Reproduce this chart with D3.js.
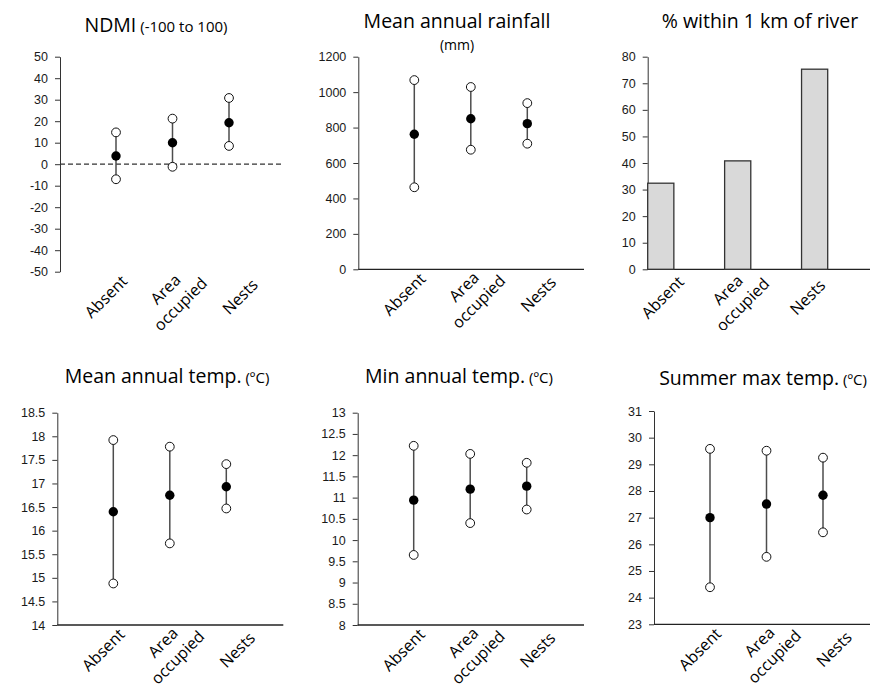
<!DOCTYPE html>
<html>
<head>
<meta charset="utf-8">
<script src="https://cdn.jsdelivr.net/npm/d3@7"></script>
<style>
  body { margin: 0; background: #fff; }
  svg { display: block; font-family: "Open Sans", Lato, sans-serif; }
  .tick text { fill: #1a1a1a; }
</style>
</head>
<body>
<div id="chart"></div>
<script>
const categories = ["Absent", "Area occupied", "Nests"];

// NDMI (-100 to 100)
const ndmiMean = [3.8, 10.0, 19.3];
const ndmiUpper = [14.8, 21.2, 30.8];
const ndmiLower = [-7.0, -1.2, 8.5];
const ndmiTicks = [-50, -40, -30, -20, -10, 0, 10, 20, 30, 40, 50];

// rainfall (mm)
const rainMean = [762, 850, 822];
const rainUpper = [1068, 1029, 938];
const rainLower = [463, 675, 709];
const rainTicks = [0, 200, 400, 600, 800, 1000, 1200];

// % within 1 km of river
const riverPct = [32.4, 40.8, 75.3];
const riverTicks = [0, 10, 20, 30, 40, 50, 60, 70, 80];

// mean annual temp
const meanTempMean = [16.40, 16.75, 16.93];
const meanTempUpper = [17.92, 17.78, 17.41];
const meanTempLower = [14.88, 15.73, 16.47];
const meanTempTicks = [14, 14.5, 15, 15.5, 16, 16.5, 17, 17.5, 18, 18.5];

// min annual temp
const minTempMean = [10.94, 11.20, 11.27];
const minTempUpper = [12.22, 12.03, 11.82];
const minTempLower = [9.65, 10.40, 10.72];
const minTempTicks = [8, 8.5, 9, 9.5, 10, 10.5, 11, 11.5, 12, 12.5, 13];

// summer max temp
const maxTempMean = [27.00, 27.51, 27.84];
const maxTempUpper = [29.58, 29.51, 29.25];
const maxTempLower = [24.39, 25.53, 26.45];
const maxTempTicks = [23, 24, 25, 26, 27, 28, 29, 30, 31];

const width = 870, height = 684;

// layout of the six panels
const panels = [
  {title: "NDMI", small: " (-100 to 100)", tx: 156, ty: 32,
   x0: 60, x1: 282, top: 56.7, bottom: 271.7, ticks: ndmiTicks, zeroLine: true,
   mean: ndmiMean, upper: ndmiUpper, lower: ndmiLower, clip: 330},
  {title: "Mean annual rainfall", below: "(mm)", tx: 457, ty: 28,
   x0: 358.3, x1: 584, top: 56.7, bottom: 269.3, ticks: rainTicks,
   mean: rainMean, upper: rainUpper, lower: rainLower, clip: 330},
  {title: "% within 1 km of river", tx: 760, ty: 28,
   x0: 647.7, x1: 870, top: 56.7, bottom: 269.3, ticks: riverTicks,
   bars: riverPct, clip: 330},
  {title: "Mean annual temp.", small: " (ºC)", tx: 167, ty: 383,
   x0: 57.3, x1: 283.3, top: 412.7, bottom: 625, ticks: meanTempTicks,
   mean: meanTempMean, upper: meanTempUpper, lower: meanTempLower, clip: 684},
  {title: "Min annual temp.", small: " (ºC)", tx: 459, ty: 383,
   x0: 357.7, x1: 584, top: 412.7, bottom: 625, ticks: minTempTicks,
   mean: minTempMean, upper: minTempUpper, lower: minTempLower, clip: 684},
  {title: "Summer max temp.", small: " (ºC)", tx: 763, ty: 385,
   x0: 654, x1: 870, top: 411, bottom: 624.3, ticks: maxTempTicks,
   mean: maxTempMean, upper: maxTempUpper, lower: maxTempLower, clip: 684}
];

const svg = d3.select("#chart").append("svg")
  .attr("width", width)
  .attr("height", height);

panels.forEach((p, i) => {
  svg.append("clipPath").attr("id", "clip" + i)
    .append("rect").attr("x", 0).attr("y", 0).attr("width", width).attr("height", p.clip);

  const g = svg.append("g").attr("clip-path", `url(#clip${i})`);

  const y = d3.scaleLinear()
    .domain(d3.extent(p.ticks))
    .range([p.bottom, p.top]);

  // title
  const t = g.append("text")
    .attr("x", p.tx).attr("y", p.ty)
    .attr("text-anchor", "middle")
    .attr("fill", "#000")
    .style("font-size", "19.5px")
    .text(p.title);
  if (p.small) t.append("tspan").style("font-size", "15px").text(p.small);
  if (p.below) {
    g.append("text")
      .attr("x", p.tx).attr("y", p.ty + 22)
      .attr("text-anchor", "middle")
      .attr("fill", "#000")
      .style("font-size", "14px")
      .text(p.below);
  }

  // y axis
  const ax = g.append("g")
    .attr("transform", `translate(${p.x0},0)`)
    .call(d3.axisLeft(y)
      .tickValues(p.ticks)
      .tickFormat(d => String(d))
      .tickSize(5)
      .tickSizeOuter(0)
      .tickPadding(7));
  ax.selectAll(".tick text").style("font-size", "12.5px");
  ax.selectAll("path, line").attr("stroke", "#333");

  // x axis line
  if (p.zeroLine) {
    g.append("line")
      .attr("x1", p.x0).attr("x2", p.x1)
      .attr("y1", y(0)).attr("y2", y(0))
      .attr("stroke", "#333")
      .attr("stroke-width", 1.2)
      .attr("stroke-dasharray", "5,3");
  } else {
    g.append("line")
      .attr("x1", p.x0).attr("x2", p.x1)
      .attr("y1", p.bottom).attr("y2", p.bottom)
      .attr("stroke", "#222")
      .attr("stroke-width", 1.3);
  }

  let labelX, labelDy;
  if (p.bars) {
    const xb = d3.scaleBand()
      .domain(categories)
      .range([p.x0, p.x0 + 180])
      .paddingInner(0.66)
      .paddingOuter(0);
    g.selectAll("rect.bar")
      .data(categories)
      .join("rect")
      .attr("class", "bar")
      .attr("x", d => xb(d))
      .attr("width", xb.bandwidth())
      .attr("y", (d, j) => y(p.bars[j]))
      .attr("height", (d, j) => y(0) - y(p.bars[j]))
      .attr("fill", "#d9d9d9")
      .attr("stroke", "#333")
      .attr("stroke-width", 1.3);
    labelX = d3.scalePoint().domain(categories).range([p.x0 + 15, p.x0 + 160]);
    labelDy = 28;
  } else {
    const x = d3.scalePoint()
      .domain(categories)
      .range([p.x0 + 56, p.x0 + 169]);
    g.selectAll("line.bar")
      .data(categories)
      .join("line")
      .attr("class", "bar")
      .attr("x1", d => x(d)).attr("x2", d => x(d))
      .attr("y1", (d, j) => y(p.lower[j]))
      .attr("y2", (d, j) => y(p.upper[j]))
      .attr("stroke", "#4d4d4d")
      .attr("stroke-width", 1.5);
    ["lower", "upper"].forEach(k => {
      g.selectAll("circle." + k)
        .data(categories)
        .join("circle")
        .attr("class", k)
        .attr("cx", d => x(d))
        .attr("cy", (d, j) => y(p[k][j]))
        .attr("r", 4.4)
        .attr("fill", "#fff")
        .attr("stroke", "#111")
        .attr("stroke-width", 1);
    });
    g.selectAll("circle.mean")
      .data(categories)
      .join("circle")
      .attr("class", "mean")
      .attr("cx", d => x(d))
      .attr("cy", (d, j) => y(p.mean[j]))
      .attr("r", 4.7)
      .attr("fill", "#000");
    labelX = d3.scalePoint().domain(categories).range([p.x0 + 46, p.x0 + 180]);
    labelDy = 25;
  }

  // rotated category labels, lines centred on each other
  g.selectAll("g.cat")
    .data(categories)
    .join("g")
    .attr("class", "cat")
    .attr("transform", d => `translate(${labelX(d)},${p.bottom + labelDy}) rotate(-45)`)
    .each(function(d) {
      const lines = d.split(" ");
      d3.select(this).selectAll("text")
        .data(lines)
        .join("text")
        .attr("text-anchor", "middle")
        .attr("y", (s, j) => (j - (lines.length - 1) / 2) * 21)
        .attr("dy", "0.35em")
        .attr("fill", "#000")
        .style("font-size", "16px")
        .text(s => s);
    });
});
</script>
</body>
</html>
